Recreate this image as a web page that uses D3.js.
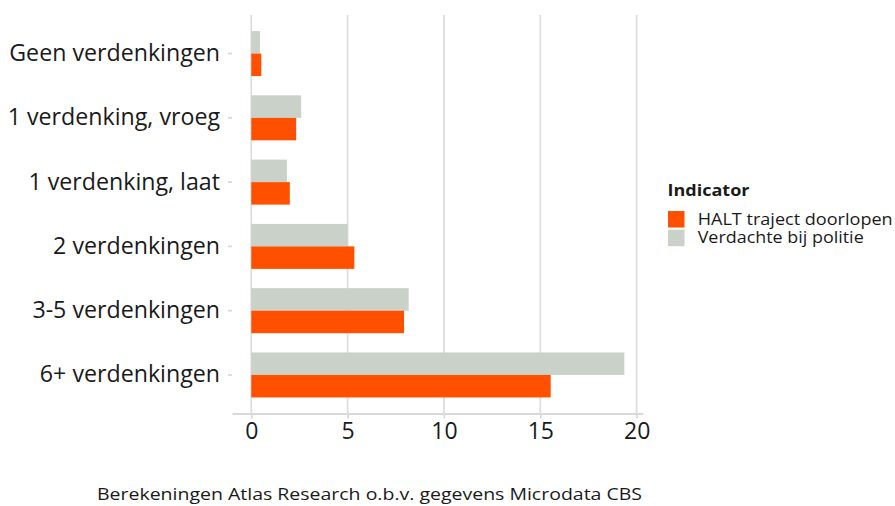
<!DOCTYPE html>
<html>
<head>
<meta charset="utf-8">
<script src="https://cdn.jsdelivr.net/npm/d3@7"></script>
<style>
  body { margin: 0; background: #fff; }
  text { font-family: "Open Sans", sans-serif; }
</style>
</head>
<body>
<svg id="chart" width="895" height="506"></svg>
<script>
// *** Data ***
var categories = ["Geen verdenkingen", "1 verdenking, vroeg", "1 verdenking, laat",
                  "2 verdenkingen", "3-5 verdenkingen", "6+ verdenkingen"];
var seriesNames = ["HALT traject doorlopen", "Verdachte bij politie"];
var haltValues = [0.52, 2.33, 2.0, 5.35, 7.93, 15.54];
var politieValues = [0.45, 2.59, 1.85, 5.0, 8.17, 19.36];
var xTicks = [0, 5, 10, 15, 20];
var colors = ["#FF5000", "#C9D1C8"];
var caption = "Berekeningen Atlas Research o.b.v. gegevens Microdata CBS";

// *** Layout ***
var svg = d3.select("#chart");
var panel = {left: 232, right: 643, top: 15, bottom: 413.5};

var x = d3.scaleLinear()
    .domain([-1, 20.33])
    .range([panel.left, panel.right]);

// discrete axis, ggplot style 0.6 expansion on each side
var y = d3.scaleBand()
    .domain(categories)
    .range([panel.top, panel.bottom])
    .paddingInner(0.3)
    .paddingOuter(0.25);

var sub = d3.scaleBand()
    .domain(["politie", "halt"])
    .range([0, y.bandwidth()]);

// gridlines
svg.append("g").selectAll("line")
    .data(xTicks)
    .enter().append("line")
    .attr("x1", d => x(d)).attr("x2", d => x(d))
    .attr("y1", panel.top).attr("y2", panel.bottom)
    .attr("stroke", "#dedede")
    .attr("stroke-width", 1.8);

// bars
var groups = svg.append("g").selectAll("g")
    .data(categories)
    .enter().append("g")
    .attr("transform", d => "translate(0," + y(d) + ")");

groups.append("rect")
    .attr("x", x(0))
    .attr("y", sub("politie"))
    .attr("height", sub.bandwidth())
    .attr("width", (d, i) => x(politieValues[i]) - x(0))
    .attr("fill", colors[1]);

groups.append("rect")
    .attr("x", x(0))
    .attr("y", sub("halt"))
    .attr("height", sub.bandwidth())
    .attr("width", (d, i) => x(haltValues[i]) - x(0))
    .attr("fill", colors[0]);

// x axis
var xAxisG = svg.append("g")
    .attr("transform", "translate(0," + panel.bottom + ")")
    .call(d3.axisBottom(x).tickValues(xTicks).tickSize(5).tickPadding(4).tickSizeOuter(0));
xAxisG.select(".domain").attr("stroke", "#d9d9d9").attr("stroke-width", 1.8);
xAxisG.selectAll(".tick line").attr("stroke", "#d9d9d9").attr("stroke-width", 1.8);
xAxisG.selectAll(".tick text")
    .attr("fill", "#1a1a1a")
    .style("font-size", "23px")
    .style("font-family", "'Open Sans', sans-serif");

// y axis
var yAxisG = svg.append("g")
    .attr("transform", "translate(" + panel.left + ",0)")
    .call(d3.axisLeft(y).tickSize(4).tickPadding(8));
yAxisG.select(".domain").remove();
yAxisG.selectAll(".tick line").attr("stroke", "#d9d9d9").attr("stroke-width", 1.8);
yAxisG.selectAll(".tick text")
    .attr("fill", "#1a1a1a")
    .style("font-size", "23.2px")
    .style("font-family", "'Open Sans', sans-serif");

// legend (text in the reference is drawn wide, so stretch it with textLength)
var legend = svg.append("g").attr("transform", "translate(668,196)");
legend.append("text")
    .attr("x", -0.5).attr("y", 0)
    .style("font-size", "15.5px")
    .style("font-weight", "bold")
    .attr("fill", "#1a1a1a")
    .attr("textLength", 82)
    .attr("lengthAdjust", "spacingAndGlyphs")
    .text("Indicator");

var keyWidths = [195, 166];
var keys = legend.selectAll("g.key")
    .data(seriesNames)
    .enter().append("g")
    .attr("class", "key")
    .attr("transform", (d, i) => "translate(0," + (15 + i * 18.7) + ")");
keys.append("rect")
    .attr("width", 16.5).attr("height", 16.5)
    .attr("fill", (d, i) => colors[i]);
keys.append("text")
    .attr("x", 29.7).attr("y", 13.5)
    .style("font-size", "15.5px")
    .attr("fill", "#1a1a1a")
    .attr("textLength", (d, i) => keyWidths[i])
    .attr("lengthAdjust", "spacingAndGlyphs")
    .text(d => d);

// caption
svg.append("text")
    .attr("x", 97).attr("y", 500)
    .style("font-size", "16px")
    .attr("fill", "#1a1a1a")
    .attr("textLength", 545)
    .attr("lengthAdjust", "spacingAndGlyphs")
    .text(caption);
</script>
</body>
</html>
